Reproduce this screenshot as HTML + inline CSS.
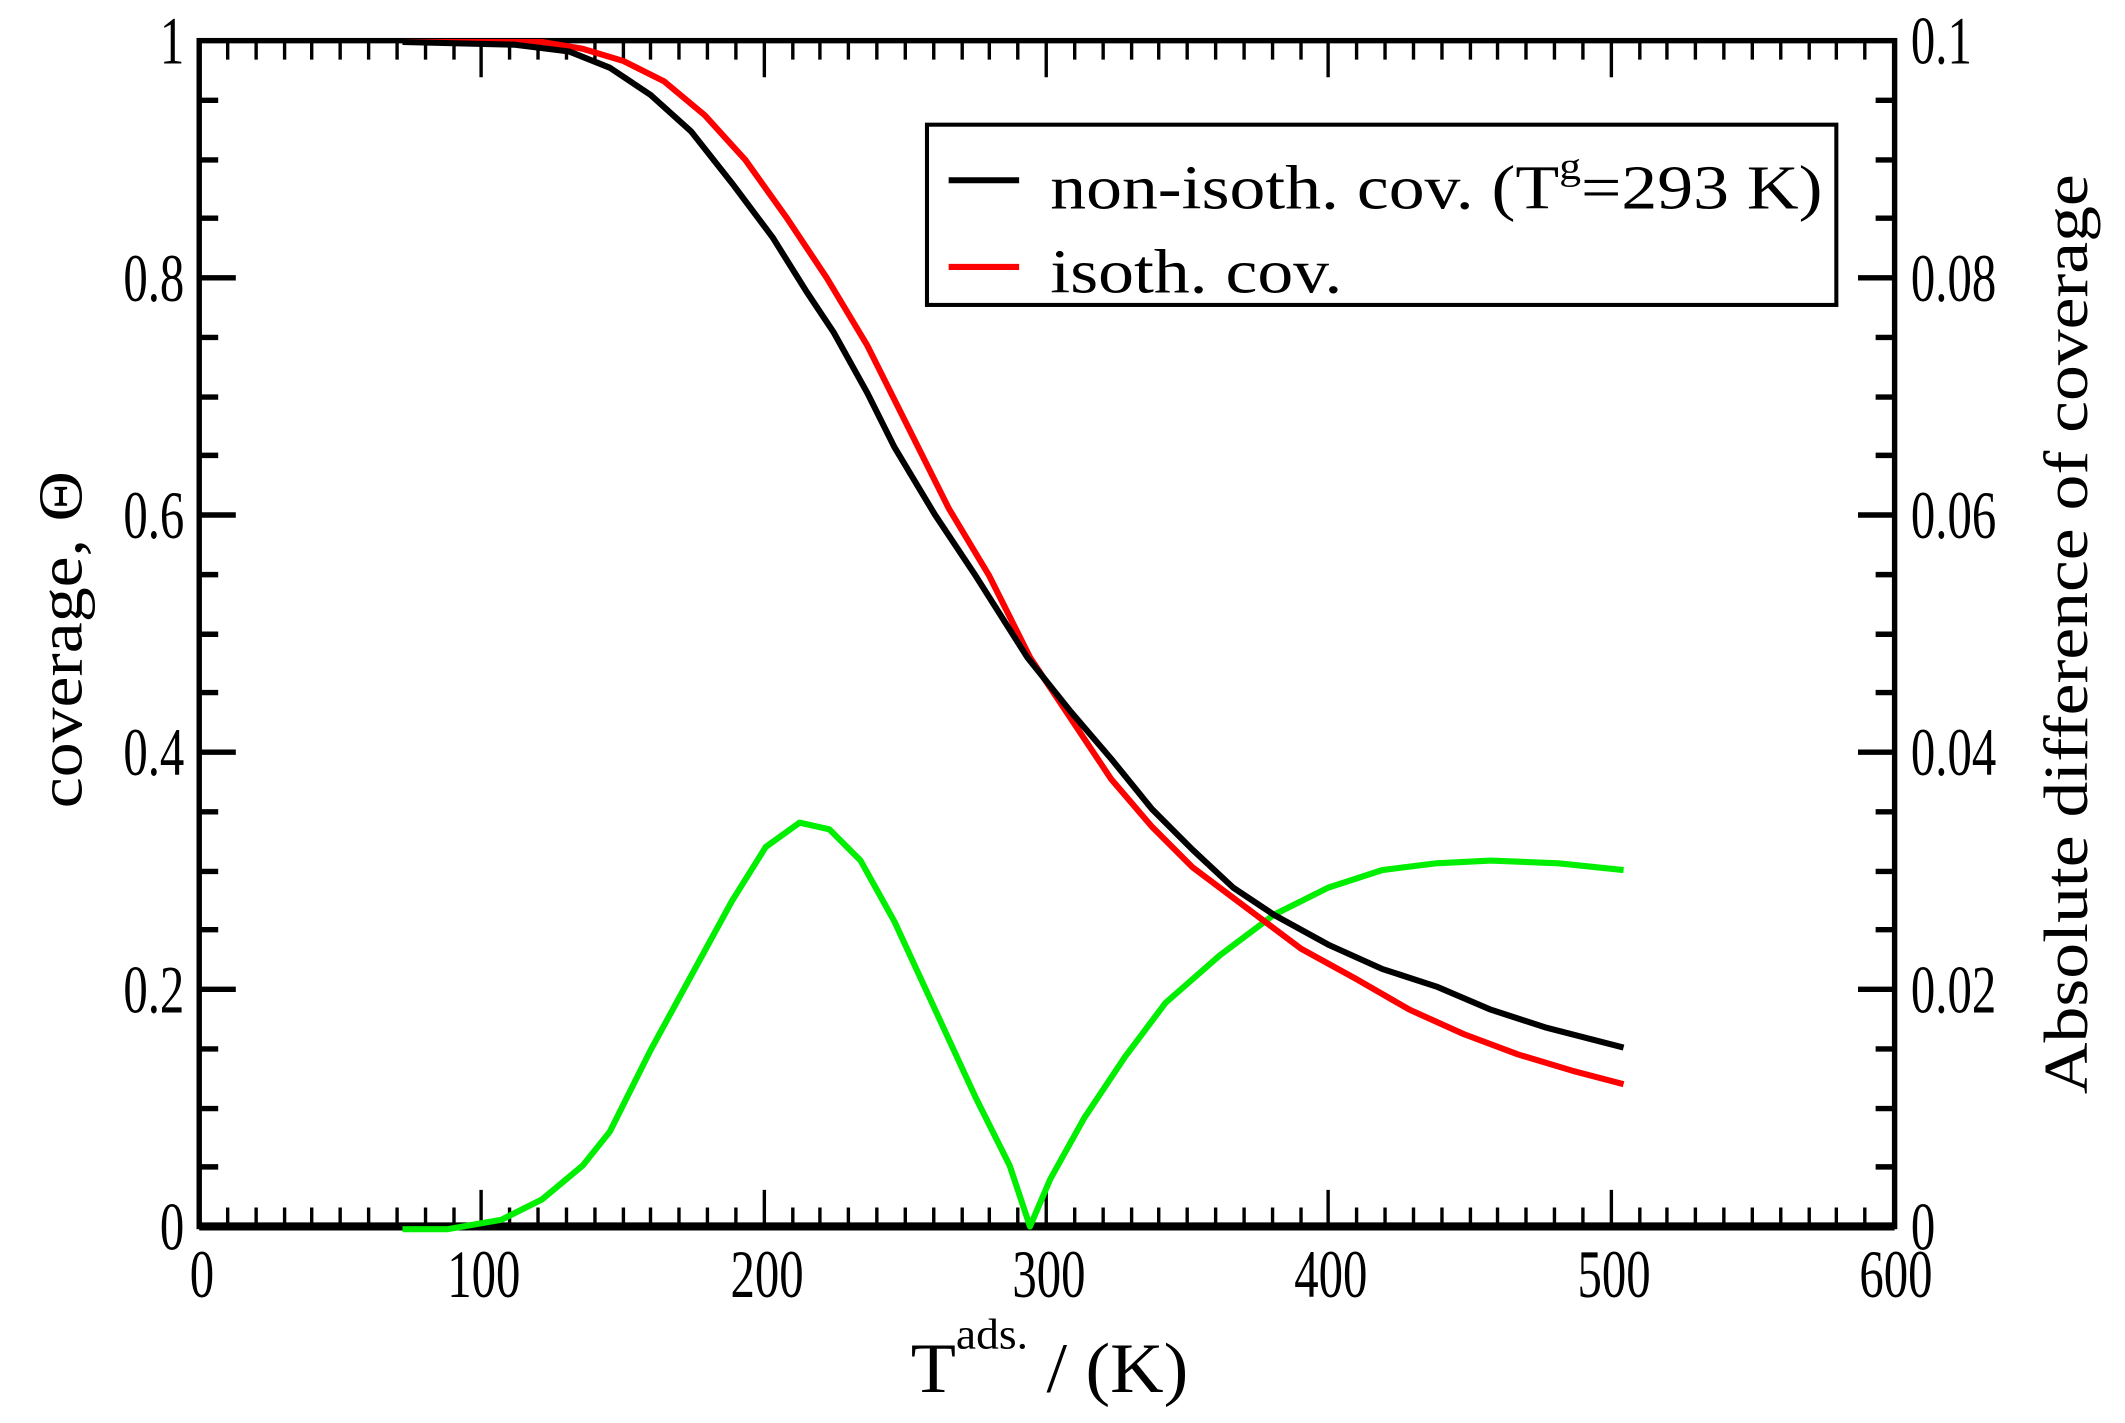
<!DOCTYPE html>
<html><head><meta charset="utf-8"><style>
html,body{margin:0;padding:0;background:#fff;}
svg{display:block;}
text{font-family:"Liberation Serif",serif;fill:#000;}
</style></head><body>
<svg width="2125" height="1423" viewBox="0 0 1568 1050" preserveAspectRatio="none">
<rect width="1568" height="1050" fill="#fff"/>
<path fill="none" stroke="#000" stroke-width="2.5" d="
M168 905v-14M189 905v-14M210 905v-14M230 905v-14M251 905v-14M272 905v-14M293 905v-14M314 905v-14M335 905v-14M355 905v-27M376 905v-14M397 905v-14M418 905v-14M439 905v-14M460 905v-14M480 905v-14M501 905v-14M522 905v-14M543 905v-14M564 905v-27M585 905v-14M605 905v-14M626 905v-14M647 905v-14M668 905v-14M689 905v-14M710 905v-14M730 905v-14M751 905v-14M772 905v-27M793 905v-14M814 905v-14M835 905v-14M855 905v-14M876 905v-14M897 905v-14M918 905v-14M939 905v-14M960 905v-14M980 905v-27M1001 905v-14M1022 905v-14M1043 905v-14M1064 905v-14M1085 905v-14M1105 905v-14M1126 905v-14M1147 905v-14M1168 905v-14M1189 905v-27M1210 905v-14M1230 905v-14M1251 905v-14M1272 905v-14M1293 905v-14M1314 905v-14M1335 905v-14M1355 905v-14M1376 905v-14
M168 30v14M189 30v14M210 30v14M230 30v14M251 30v14M272 30v14M293 30v14M314 30v14M335 30v14M355 30v27M376 30v14M397 30v14M418 30v14M439 30v14M460 30v14M480 30v14M501 30v14M522 30v14M543 30v14M564 30v27M585 30v14M605 30v14M626 30v14M647 30v14M668 30v14M689 30v14M710 30v14M730 30v14M751 30v14M772 30v27M793 30v14M814 30v14M835 30v14M855 30v14M876 30v14M897 30v14M918 30v14M939 30v14M960 30v14M980 30v27M1001 30v14M1022 30v14M1043 30v14M1064 30v14M1085 30v14M1105 30v14M1126 30v14M1147 30v14M1168 30v14M1189 30v27M1210 30v14M1230 30v14M1251 30v14M1272 30v14M1293 30v14M1314 30v14M1335 30v14M1355 30v14M1376 30v14"/>
<path fill="none" stroke="#000" stroke-width="4" d="
M147 861h14M147 818h14M147 774h14M147 730h27M147 686h14M147 643h14M147 599h14M147 555h27M147 511h14M147 468h14M147 424h14M147 380h27M147 336h14M147 293h14M147 249h14M147 205h27M147 161h14M147 118h14M147 74h14
M1398 861h-14M1398 818h-14M1398 774h-14M1398 730h-27M1398 686h-14M1398 643h-14M1398 599h-14M1398 555h-27M1398 511h-14M1398 468h-14M1398 424h-14M1398 380h-27M1398 336h-14M1398 293h-14M1398 249h-14M1398 205h-27M1398 161h-14M1398 118h-14M1398 74h-14"/>
<rect x="147" y="30" width="1251" height="875" fill="none" stroke="#000" stroke-width="4"/>
<line x1="147" y1="905" x2="1398" y2="905" stroke="#000" stroke-width="6"/>
<polyline fill="none" stroke="#00ee00" stroke-width="4.5" stroke-linejoin="round" points="297,907 330,907 370,900 400,885 430,860 450,835 480,775 510,720 540,665 565,625 590,607 612,612 635,635 660,680 690,745 720,810 745,860 760,905 775,870 800,825 830,780 860,740 900,705 940,675 980,655 1020,642 1060,637 1100,635 1150,637 1198,642"/>
<polyline fill="none" stroke="#ff0000" stroke-width="4.5" stroke-linejoin="round" points="297,31 400,31 430,36 460,45 490,60 520,85 550,118 580,160 610,205 640,255 670,315 700,375 730,425 760,485 790,530 820,575 850,610 880,640 920,670 960,700 1000,722 1040,745 1080,763 1120,778 1160,790 1198,800"/>
<polyline fill="none" stroke="#000" stroke-width="4.5" stroke-linejoin="round" points="297,31 380,33 420,38 450,50 480,70 510,97 540,135 570,175 595,215 615,245 640,290 660,330 690,380 720,425 758,485 790,525 820,560 850,597 880,627 910,655 940,675 980,697 1020,715 1060,728 1100,745 1140,758 1198,773"/>
<rect x="684" y="92" width="671" height="133" fill="#fff" stroke="#000" stroke-width="3"/>
<line x1="700" y1="133" x2="752" y2="133" stroke="#000" stroke-width="4.5"/>
<line x1="700" y1="197" x2="752" y2="197" stroke="#ff0000" stroke-width="4.5"/>
<text transform="translate(775,154) scale(1.15,1)" font-size="46">non-isoth. cov. (T<tspan font-size="28" dy="-22">g</tspan><tspan dy="22">=293 K)</tspan></text>
<text transform="translate(775,216) scale(1.15,1)" font-size="46">isoth. cov.</text>
<g font-size="50" text-anchor="end">
<text transform="translate(136,922) scale(0.72,1)">0</text>
<text transform="translate(136,747) scale(0.72,1)">0.2</text>
<text transform="translate(136,572) scale(0.72,1)">0.4</text>
<text transform="translate(136,397) scale(0.72,1)">0.6</text>
<text transform="translate(136,222) scale(0.72,1)">0.8</text>
<text transform="translate(136,47) scale(0.72,1)">1</text>
</g>
<g font-size="50">
<text transform="translate(1410,922) scale(0.72,1)">0</text>
<text transform="translate(1410,747) scale(0.72,1)">0.02</text>
<text transform="translate(1410,572) scale(0.72,1)">0.04</text>
<text transform="translate(1410,397) scale(0.72,1)">0.06</text>
<text transform="translate(1410,222) scale(0.72,1)">0.08</text>
<text transform="translate(1410,47) scale(0.72,1)">0.1</text>
</g>
<g font-size="50" text-anchor="middle">
<text transform="translate(149,957) scale(0.72,1)">0</text>
<text transform="translate(357,957) scale(0.72,1)">100</text>
<text transform="translate(566,957) scale(0.72,1)">200</text>
<text transform="translate(774,957) scale(0.72,1)">300</text>
<text transform="translate(982,957) scale(0.72,1)">400</text>
<text transform="translate(1191,957) scale(0.72,1)">500</text>
<text transform="translate(1399,957) scale(0.72,1)">600</text>
</g>
<text transform="translate(672,1027) scale(1.05,1)" font-size="52">T<tspan font-size="32" dy="-32">ads.</tspan><tspan dy="32"> / (K)</tspan></text>
<text transform="translate(60,472) rotate(-90) scale(1.12,1)" font-size="46" text-anchor="middle">coverage, Θ</text>
<text transform="translate(1540,468) rotate(-90) scale(1.15,1)" font-size="46" text-anchor="middle">Absolute difference of coverage</text>
</svg>
</body></html>
